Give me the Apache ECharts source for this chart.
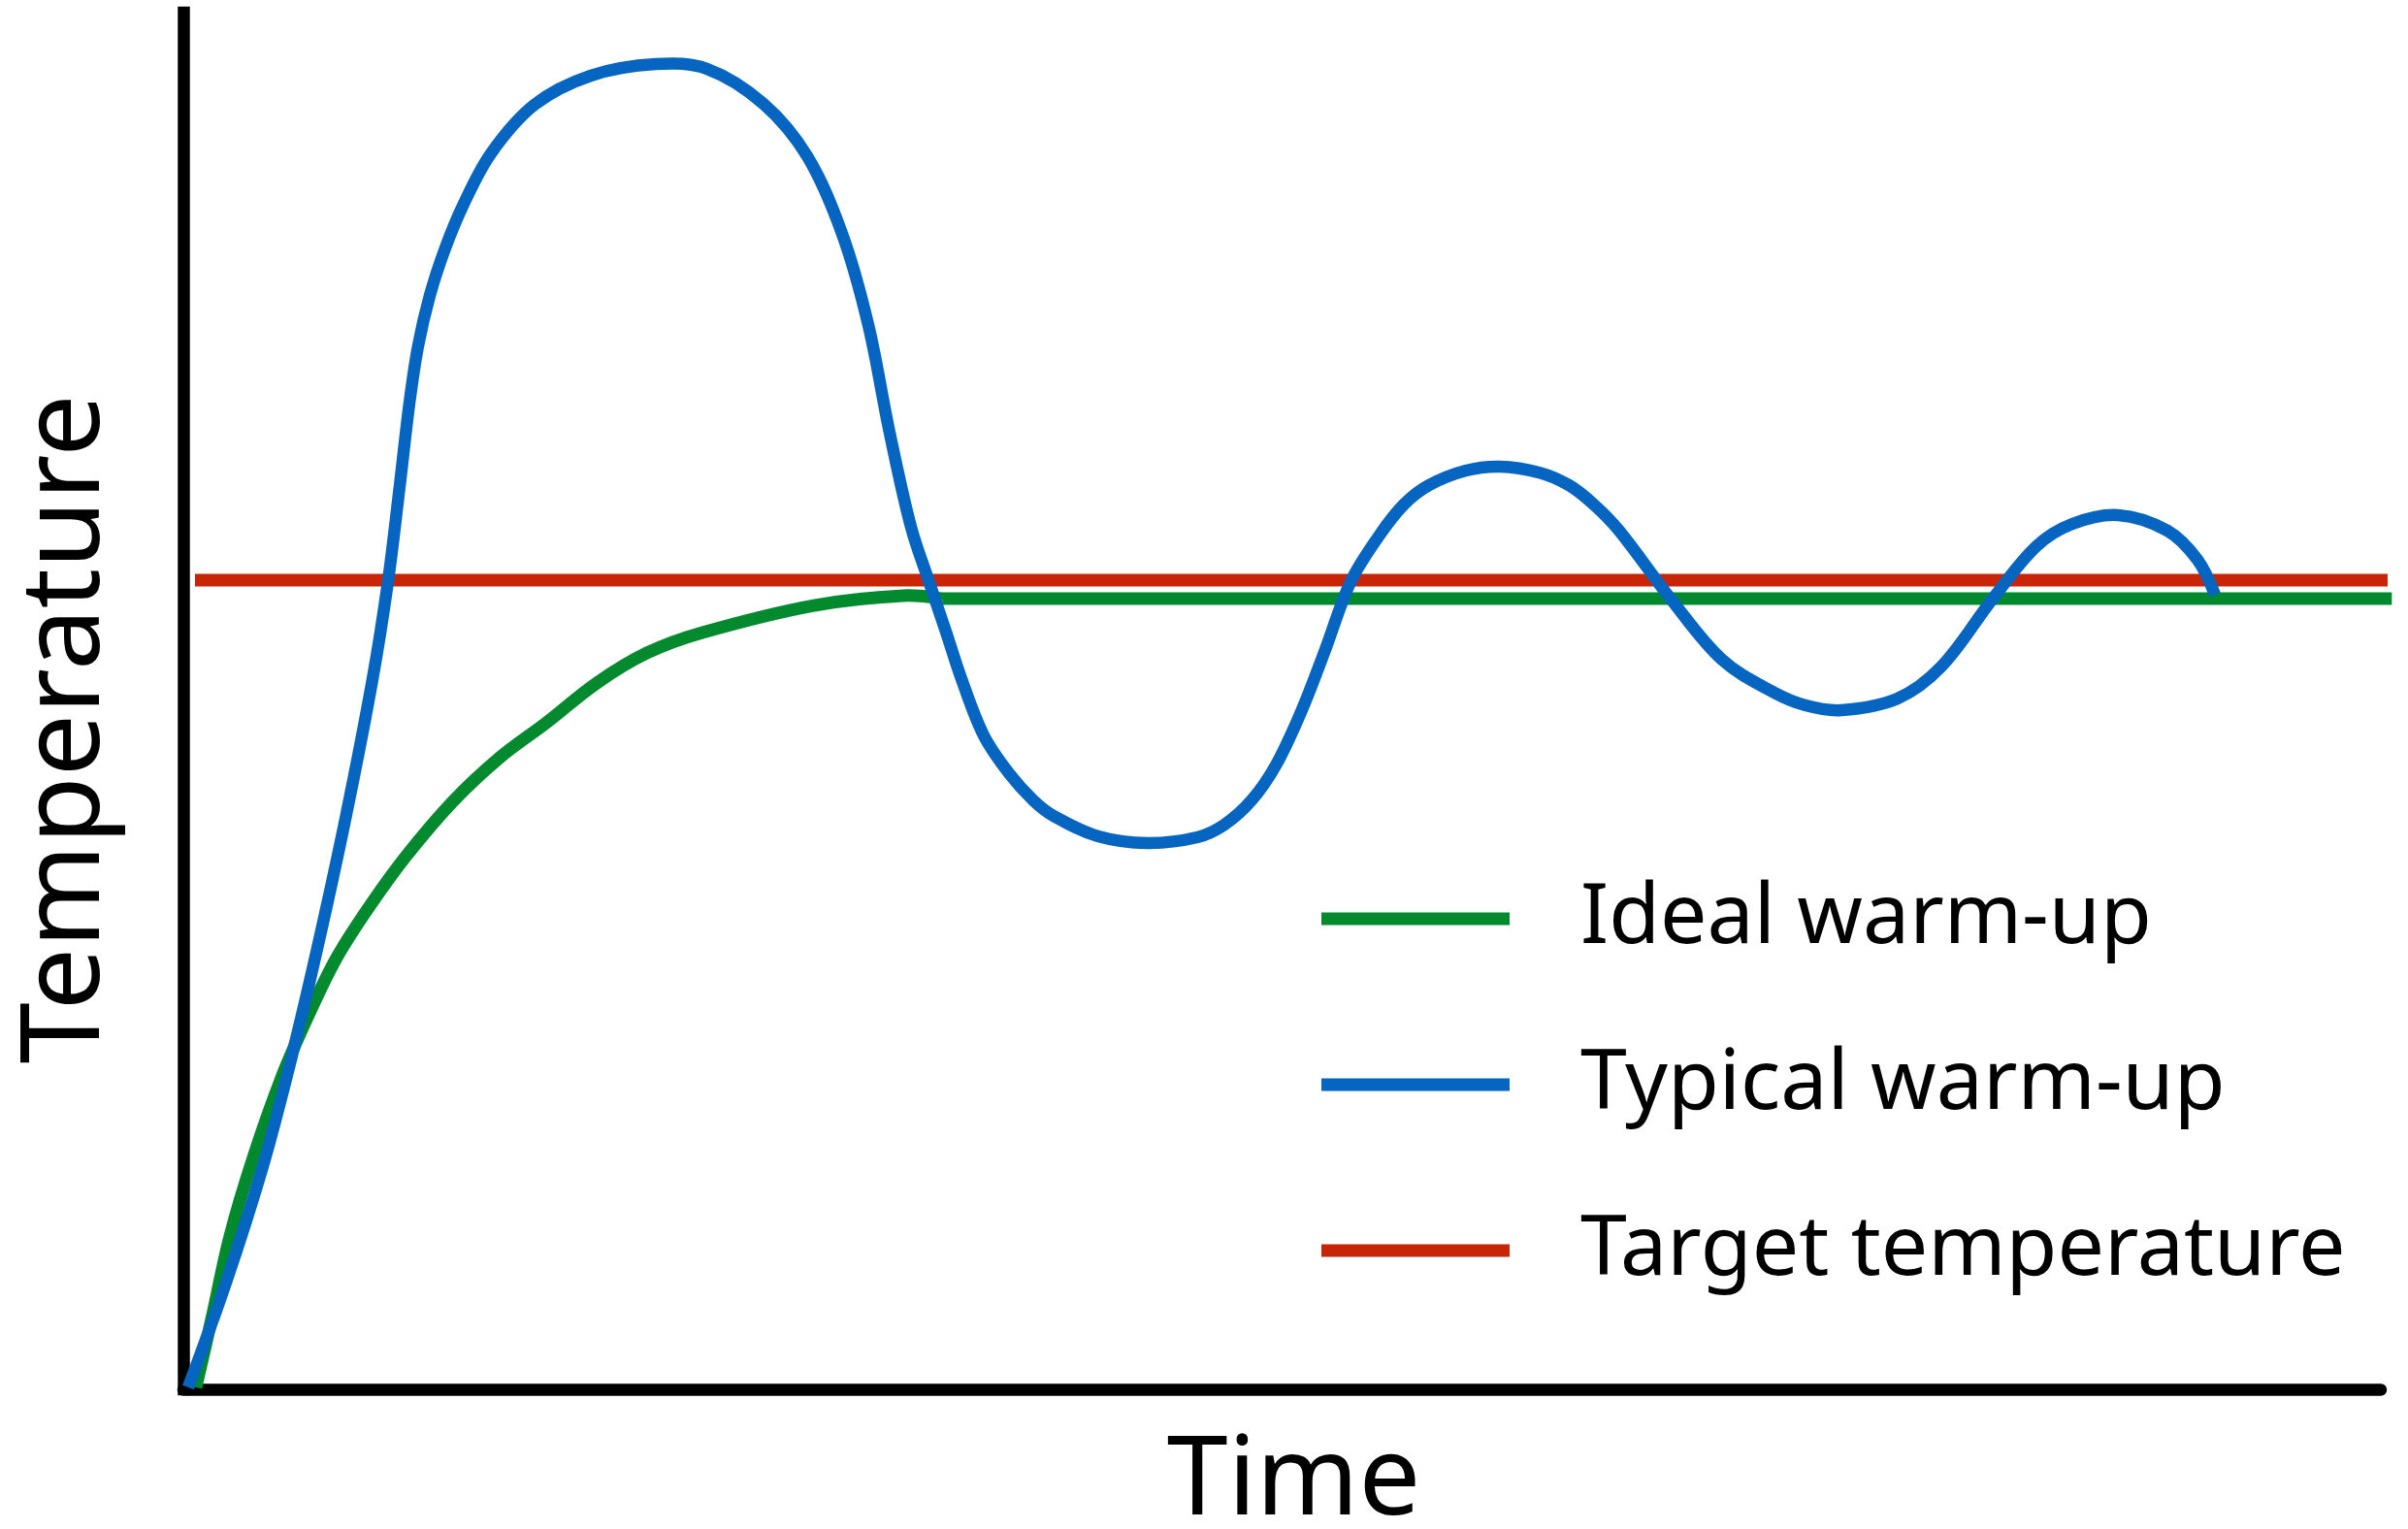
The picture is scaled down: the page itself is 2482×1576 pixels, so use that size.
<!DOCTYPE html>
<html>
<head>
<meta charset="utf-8">
<script src="https://cdn.jsdelivr.net/npm/echarts@6/dist/echarts.min.js"></script>
<style>
html,body{margin:0;padding:0;background:#fff;}
#chart{width:2482px;height:1576px;}
</style>
</head>
<body>
<div id="chart"></div>
<script>
// Schematic chart: time (0-100) vs temperature (0-100)
var seriesNames = ['Ideal warm-up', 'Typical warm-up', 'Target temperature'];

// curved part of the ideal warm-up, then its flat plateau
var idealWarmUp = [
  [0.57, 0.14], [1.28, 5.07], [2.12, 11.13], [3.18, 16.84], [4.46, 22.62], [5.74, 27.34],
  [6.98, 31.36], [8.48, 35.10], [10.15, 38.76], [12.27, 42.71], [14.39, 45.88], [16.51, 48.41],
  [18.81, 51.30], [21.10, 53.49], [23.62, 54.97], [28.70, 56.94], [32.76, 57.65], [34.53, 57.43]
];
var idealPlateau = [[34.53, 57.43], [100.5, 57.43]];

var typicalWarmUp = [
  [0.22, 0.14], [1.94, 7.75], [3.62, 16.21], [4.90, 23.96], [6.14, 32.35], [7.42, 41.79],
  [8.61, 51.59], [9.32, 58.77], [9.85, 65.68], [10.29, 71.67], [10.68, 75.76], [11.21, 79.42],
  [11.88, 82.73], [12.72, 85.98], [14.00, 89.78], [15.98, 93.31], [18.54, 95.42], [21.50, 96.26],
  [23.84, 95.91], [26.40, 93.38], [28.39, 89.57], [29.98, 83.93], [31.17, 77.31], [32.14, 69.49],
  [33.11, 62.65], [33.91, 58.77], [34.70, 55.04], [35.41, 51.59], [36.42, 47.50], [37.57, 44.75],
  [38.68, 42.78], [39.60, 41.65], [41.63, 40.17], [43.89, 39.68], [46.14, 40.10], [47.37, 41.01],
  [48.61, 42.78], [49.71, 45.31], [50.86, 49.19], [51.96, 53.70], [53.11, 58.63], [54.39, 61.95],
  [55.54, 64.27], [56.69, 65.68], [58.37, 66.74], [59.91, 67.02], [61.68, 66.60], [63.05, 65.68],
  [64.19, 64.27], [65.34, 62.37], [67.68, 57.43], [70.02, 53.00], [72.32, 50.67], [73.82, 49.68],
  [75.45, 49.33], [78.01, 50.18], [80.00, 52.50], [82.34, 57.43], [84.33, 61.24], [85.96, 62.86],
  [88.04, 63.50], [90.29, 62.37], [91.66, 60.25], [92.45, 57.72]
];

var targetTemperature = [[0.53, 58.77], [100.62, 58.77]];

var xAxisTitle = 'Time';
var yAxisTitle = 'Temperature';

var FONT = '"Noto Sans", "Open Sans", sans-serif';
var GREEN = '#038a2f', BLUE = '#0565c0', RED = '#c82506';

// Smooth curve series: points are mapped through the axes (api.coord)
function curveSeries(name, curve, straight, color, width, z) {
  return {
    name: name, type: 'custom', data: curve, encode: {x: 0, y: 1}, z: z,
    itemStyle: {color: color}, silent: true,
    renderItem: function (params, api) {
      if (params.dataIndex !== 0) return null;
      var children = [{
        type: 'polyline',
        shape: {points: curve.map(function (d) { return api.coord(d); }), smooth: 0.35},
        style: {stroke: color, lineWidth: width, fill: null, lineJoin: 'round'}
      }];
      if (straight) {
        children.push({
          type: 'polyline',
          shape: {points: straight.map(function (d) { return api.coord(d); })},
          style: {stroke: color, lineWidth: width, fill: null}
        });
      }
      return {type: 'group', children: children};
    }
  };
}

var chart = echarts.init(document.getElementById('chart'), null, {renderer: 'canvas'});
chart.setOption({
  animation: false,
  backgroundColor: '#ffffff',
  grid: {left: 189, right: 28, top: 13, bottom: 144, outerBoundsMode: 'none', containLabel: false},
  xAxis: {
    type: 'value', min: 0, max: 100,
    name: xAxisTitle, nameLocation: 'middle', nameGap: 40,
    nameTextStyle: {fontFamily: FONT, fontSize: 113, color: '#000', lineHeight: 113, padding: [0, 0, 0, 24]},
    axisLine: {show: true, lineStyle: {color: '#000', width: 12.5}},
    axisTick: {show: false}, axisLabel: {show: false}, splitLine: {show: false}
  },
  yAxis: {
    type: 'value', min: 0, max: 100,
    name: yAxisTitle, nameLocation: 'middle', nameGap: 62,
    nameTextStyle: {fontFamily: FONT, fontSize: 114, color: '#000', lineHeight: 114, padding: [0, 58, 0, 0]},
    axisLine: {show: true, lineStyle: {color: '#000', width: 12.5, cap: 'square'}},
    axisTick: {show: false}, axisLabel: {show: false}, splitLine: {show: false}
  },
  legend: {
    orient: 'vertical', left: 1362, top: 897, padding: 0,
    data: seriesNames,
    icon: 'rect', itemWidth: 194, itemHeight: 13, itemGap: 71,
    selectedMode: false,
    textStyle: {fontFamily: FONT, fontSize: 86, color: '#000', lineHeight: 100, padding: [0, 0, 0, 68]}
  },
  series: [
    {name: seriesNames[2], type: 'line', data: targetTemperature, showSymbol: false, symbol: 'none',
     clip: false, lineStyle: {color: RED, width: 13}, itemStyle: {color: RED}, z: 2},
    curveSeries(seriesNames[0], idealWarmUp, idealPlateau, GREEN, 13, 3),
    curveSeries(seriesNames[1], typicalWarmUp, null, BLUE, 12.5, 4)
  ]
});
</script>
</body>
</html>
